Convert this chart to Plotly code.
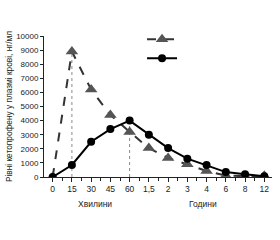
import plotly.graph_objects as go

tick_labels = ["0", "15", "30", "45", "60", "1,5", "2", "3", "4", "6", "8", "12"]
x_idx = list(range(len(tick_labels)))
triangle_vals = [0, 8900, 6200, 4400, 3200, 2050, 1350, 900, 430, 100, 60, 80]
circle_vals = [0, 850, 2500, 3400, 4000, 3000, 2050, 1300, 850, 350, 200, 50]
y_ticks = list(range(0, 10001, 1000))
y_title = "Рівні кетопрофену у плазмі крові, нг/мл"
x_group_labels = ["Хвилини", "Години"]

font = "Liberation Sans, Arial, sans-serif"
fig = go.Figure()

# dotted guides at peaks
fig.add_trace(go.Scatter(x=[x_idx[1], x_idx[1]], y=[0, triangle_vals[1]], mode="lines",
                         line=dict(color="#8a8a8a", width=1, dash="dot"),
                         showlegend=False, hoverinfo="skip"))
fig.add_trace(go.Scatter(x=[x_idx[4], x_idx[4]], y=[0, circle_vals[4]], mode="lines",
                         line=dict(color="#8a8a8a", width=1, dash="dot"),
                         showlegend=False, hoverinfo="skip"))

fig.add_trace(go.Scatter(x=x_idx, y=triangle_vals, mode="lines+markers", name=" ",
                         line=dict(color="#333333", width=2, dash="dash"),
                         marker=dict(symbol="triangle-up", size=11, color="#555555")))
fig.add_trace(go.Scatter(x=x_idx, y=circle_vals, mode="lines+markers", name=" ",
                         line=dict(color="#000000", width=2),
                         marker=dict(symbol="circle", size=8, color="#000000")))

fig.update_layout(
    width=280, height=240,
    margin=dict(l=44, r=8, t=36, b=63),
    paper_bgcolor="white", plot_bgcolor="white",
    font=dict(family=font, size=8, color="#222222"),
    showlegend=True,
    legend=dict(x=0.43, y=1.08, xanchor="left", yanchor="top",
                bgcolor="rgba(0,0,0,0)", tracegroupgap=0, itemwidth=30,
                font=dict(size=4)),
    xaxis=dict(range=[-0.45, 11.4], tickvals=x_idx, ticktext=tick_labels,
               showgrid=False, zeroline=False, showline=True, linecolor="#222",
               linewidth=1, ticks="outside", ticklen=4, tickcolor="#222",
               tickfont=dict(size=8.5),
               minor=dict(tickvals=[i + 0.5 for i in x_idx[:-1]], ticks="outside",
                          ticklen=3, tickcolor="#222")),
    yaxis=dict(range=[0, 10000], tickvals=y_ticks, ticktext=[str(v) for v in y_ticks],
               showgrid=False, zeroline=False, showline=True, linecolor="#222",
               linewidth=1, ticks="outside", ticklen=3, tickcolor="#222",
               tickfont=dict(size=8),
               title=dict(text=y_title, font=dict(size=8.3), standoff=2)),
)

for xpos, label in zip([2.2, 7.8], x_group_labels):
    fig.add_annotation(x=xpos, y=-0.14, xref="x", yref="paper", text=label,
                       showarrow=False, font=dict(size=8.5), yanchor="top")

fig.write_html("out.html")
